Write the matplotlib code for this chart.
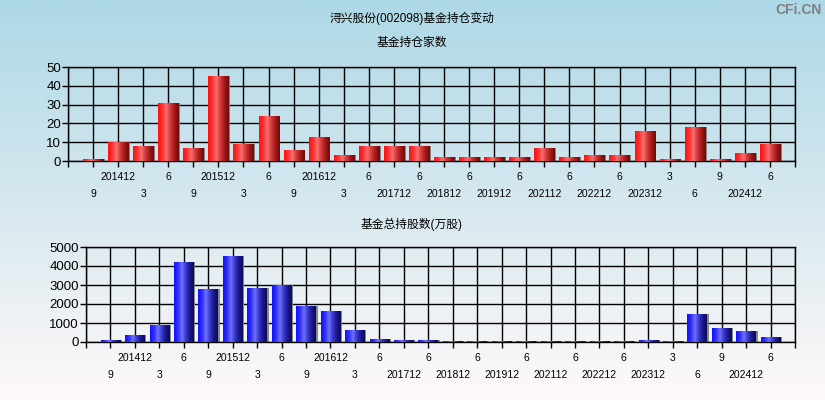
import numpy as np
import matplotlib
matplotlib.use('Agg')
import matplotlib.pyplot as plt
from matplotlib.colors import LinearSegmentedColormap

plt.rcParams['font.family'] = ['Liberation Sans', 'Noto Sans CJK SC']

# x labels: one per quarter bar, alternating between two rows
labels = ['9', '201412', '3', '6', '9', '201512', '3', '6', '9', '201612',
          '3', '6', '201712', '6', '201812', '6', '201912', '6', '202112', '6',
          '202212', '6', '202312', '3', '6', '9', '202412', '6']

fund_count = [1, 10, 8, 31, 7, 45, 9, 24, 6, 13,
              3, 8, 8, 8, 2, 2, 2, 2, 7, 2,
              3, 3, 16, 1, 18, 1, 4, 9]

fund_shares = [105, 370, 900, 4230, 2800, 4540, 2860, 2980, 1910, 1650,
               650, 160, 105, 105, 50, 50, 50, 50, 50, 50,
               50, 50, 105, 50, 1490, 740, 580, 265]

red_cmap = LinearSegmentedColormap.from_list(
    'red3d', ['#ff1010', '#ff3030', '#f87070', '#d03838', '#a01818', '#6e0a0a'])
blue_cmap = LinearSegmentedColormap.from_list(
    'blue3d', ['#1010ff', '#3030ff', '#7070ff', '#3838c8', '#18188c', '#0a0a55'])

W, H = 825, 400
fig = plt.figure(figsize=(W / 100, H / 100), dpi=100)

# background gradient
bg = fig.add_axes([0, 0, 1, 1], zorder=-10)
grad = np.linspace(0, 1, 256).reshape(-1, 1)
bg_cmap = LinearSegmentedColormap.from_list('bg', ['#add8e6', '#d6e8ef', '#fff9f9'])
bg.imshow(grad, aspect='auto', cmap=bg_cmap, extent=[0, 1, 0, 1], origin='upper')
bg.set_axis_off()


def px_axes(left, top, right, bottom):
    return fig.add_axes([left / W, 1 - bottom / H, (right - left) / W, (bottom - top) / H])


def draw_panel(ax, values, cmap, ymax, ystep):
    n = len(values)
    x = np.arange(1, n + 1)
    ax.patch.set_alpha(0)
    ax.set_xlim(0, n + 1)
    ax.set_ylim(0, ymax)

    # shadow
    ax.bar(x + 0.07, values, width=0.8, color='#7c7c7c', alpha=0.9, zorder=2)
    bars = ax.bar(x, values, width=0.8, color='none', zorder=3)
    g = np.linspace(0, 1, 64).reshape(1, -1)
    for b in bars:
        x0 = b.get_x()
        im = ax.imshow(g, cmap=cmap, aspect='auto', zorder=3,
                       extent=[x0, x0 + b.get_width(), 0, b.get_height()])
        im.set_clip_path(b)
    ax.set_xlim(0, n + 1)
    ax.set_ylim(0, ymax)

    ax.set_yticks(np.arange(0, ymax + 1, ystep))
    ax.tick_params(axis='y', length=4, width=1, labelsize=9.5, pad=1)

    all_x = np.arange(0, n + 2)
    ax.set_xticks(all_x[::2])
    ax.set_xticks(all_x[1::2], minor=True)
    lab = [''] + labels + ['']
    ax.set_xticklabels(lab[::2])
    ax.set_xticklabels(lab[1::2], minor=True)
    ax.tick_params(axis='x', which='major', length=4, width=1, labelsize=7.5, pad=4)
    ax.tick_params(axis='x', which='minor', length=4, width=1, labelsize=7.5, pad=16)

    ax.grid(True, which='both', axis='x', color='black', linewidth=1, zorder=1)
    ax.grid(True, which='major', axis='y', color='black', linewidth=1, zorder=1)
    ax.set_axisbelow(True)
    for s in ax.spines.values():
        s.set_color('black')
        s.set_linewidth(1)


ax1 = px_axes(68, 67, 795, 161)
draw_panel(ax1, fund_count, red_cmap, 50, 10)

ax2 = px_axes(86, 247, 795, 342)
draw_panel(ax2, fund_shares, blue_cmap, 5000, 1000)

fig.text(412 / W, 1 - 18 / H, '浔兴股份(002098)基金持仓变动', ha='center', va='center', fontsize=8.5)
fig.text(412 / W, 1 - 43 / H, '基金持仓家数', ha='center', va='center', fontsize=8.5)
fig.text(412 / W, 1 - 224 / H, '基金总持股数(万股)', ha='center', va='center', fontsize=8.5)
fig.text(822 / W, 1 - 10 / H, 'CFi.CN', ha='right', va='center', fontsize=10,
         color='#808080', fontweight='bold')

fig.savefig('out.png', dpi=100)
